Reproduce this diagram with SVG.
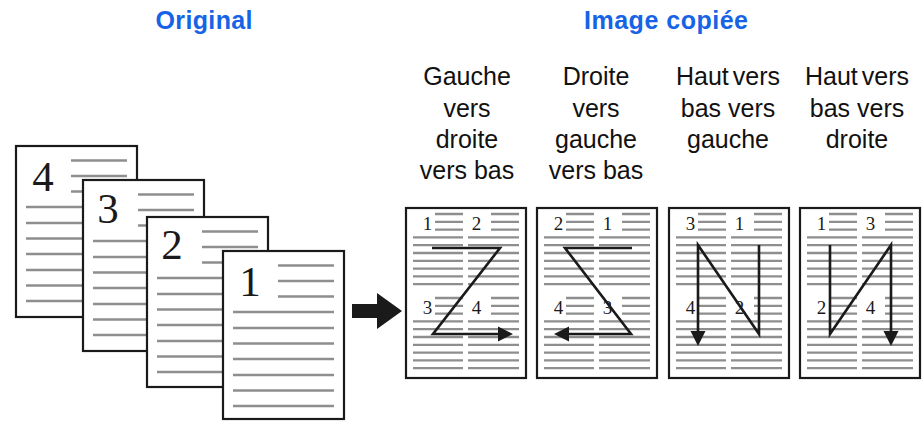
<svg xmlns="http://www.w3.org/2000/svg" xmlns:xlink="http://www.w3.org/1999/xlink" width="922" height="421" viewBox="0 0 922 421">
<style>
.head{font-family:"Liberation Sans",Arial,sans-serif;font-weight:bold;font-size:25px;fill:#1763e6;text-anchor:middle}
.lbl{font-family:"Liberation Sans",Arial,sans-serif;font-size:25px;fill:#111;text-anchor:middle}
.page{fill:#fff;stroke:#1a1a1a;stroke-width:2.2}
.gl{stroke:#8e8e8e;stroke-width:2.6;fill:none}
.ml{stroke:#8e8e8e;stroke-width:2.3;fill:none}
.bign{font-family:"Liberation Serif","Times New Roman",serif;font-size:43px;fill:#1a1a1a;text-anchor:middle}
.smn{font-family:"Liberation Serif","Times New Roman",serif;font-size:19px;fill:#1a1a1a;text-anchor:middle}
.path{fill:none;stroke:#1a1a1a;stroke-width:2.6;stroke-linejoin:miter}
.ah{fill:#1a1a1a}
</style>
<defs>
<g id="biglines" class="gl">
<path d="M55 14.5H111M55 30H111M55 45.5H111M10 61H111M10 77H111M10 92.5H111M10 108H111M10 124H111M10 139.5H111M10 155H111"/>
</g>
<g id="miniblock" class="ml">
<path d="M29 6H57M29 13.8H57M29 21.6H57M7 29.4H57M7 37.2H57M7 45H57M7 52.8H57M7 60.6H57M7 68.4H57M7 76.2H57"/>
<path d="M85 6H113M85 13.8H113M85 21.6H113M62 29.4H113M62 37.2H113M62 45H113M62 52.8H113M62 60.6H113M62 68.4H113M62 76.2H113"/>
</g>
<g id="minipage">
<rect class="page" x="0" y="0" width="120" height="170"/>
<use xlink:href="#miniblock"/>
<use xlink:href="#miniblock" y="84"/>
</g>
</defs>

<g id="titles">
<text class="head" x="204" y="29" textLength="97" lengthAdjust="spacing">Original</text>
<text class="head" x="666" y="29" textLength="164" lengthAdjust="spacing">Image copiée</text>
</g>

<g id="original-stack">
<g id="page4" transform="translate(16,146)">
<rect class="page" width="121" height="171"/>
<use xlink:href="#biglines"/>
<text class="bign" x="27" y="45">4</text>
</g>
<g id="page3" transform="translate(83,180)">
<rect class="page" width="121" height="171"/>
<use xlink:href="#biglines"/>
<text class="bign" x="25" y="43">3</text>
</g>
<g id="page2" transform="translate(147,217)">
<rect class="page" width="121" height="170"/>
<use xlink:href="#biglines"/>
<text class="bign" x="25" y="42">2</text>
</g>
<g id="page1" transform="translate(223,251)">
<rect class="page" width="121" height="168"/>
<use xlink:href="#biglines"/>
<text class="bign" x="27" y="45">1</text>
</g>
</g>

<g id="connectors">
<polygon class="ah" points="352,304 377,304 377,293 402,311 377,329 377,318 352,318"/>
</g>

<g id="copy-lr-tb">
<text class="lbl" x="467" y="85">Gauche</text>
<text class="lbl" x="467" y="117">vers</text>
<text class="lbl" x="467" y="148">droite</text>
<text class="lbl" x="467" y="179">vers bas</text>
<g transform="translate(406,208)">
<use xlink:href="#minipage"/>
<text class="smn" x="21.5" y="21.5">1</text>
<text class="smn" x="70.5" y="21.5">2</text>
<text class="smn" x="21.5" y="106">3</text>
<text class="smn" x="70.5" y="106">4</text>
<polyline class="path" points="26,40 94,40 27,126 93,126"/>
<polygon class="ah" points="92,118.5 107,126 92,133.5"/>
</g>
</g>

<g id="copy-rl-tb">
<text class="lbl" x="596" y="85">Droite</text>
<text class="lbl" x="596" y="117">vers</text>
<text class="lbl" x="596" y="148">gauche</text>
<text class="lbl" x="596" y="179">vers bas</text>
<g transform="translate(537,208)">
<use xlink:href="#minipage"/>
<text class="smn" x="21.5" y="21.5">2</text>
<text class="smn" x="70.5" y="21.5">1</text>
<text class="smn" x="21.5" y="106">4</text>
<text class="smn" x="70.5" y="106">3</text>
<polyline class="path" points="95,40 28,40 94,126 31,126"/>
<polygon class="ah" points="32,118.5 17,126 32,133.5"/>
</g>
</g>

<g id="copy-tb-rl">
<text class="lbl" x="728" y="85" word-spacing="-3">Haut vers</text>
<text class="lbl" x="728" y="117">bas vers</text>
<text class="lbl" x="728" y="148">gauche</text>
<g transform="translate(669,208)">
<use xlink:href="#minipage"/>
<text class="smn" x="21.5" y="21.5">3</text>
<text class="smn" x="70.5" y="21.5">1</text>
<text class="smn" x="21.5" y="106">4</text>
<text class="smn" x="70.5" y="106">2</text>
<polyline class="path" points="90,37 90,126 29,37 29,124"/>
<polygon class="ah" points="21.5,123 36.5,123 29,138"/>
</g>
</g>

<g id="copy-tb-lr">
<text class="lbl" x="857" y="85" word-spacing="-3">Haut vers</text>
<text class="lbl" x="857" y="117">bas vers</text>
<text class="lbl" x="857" y="148">droite</text>
<g transform="translate(800,208)">
<use xlink:href="#minipage"/>
<text class="smn" x="21.5" y="21.5">1</text>
<text class="smn" x="70.5" y="21.5">3</text>
<text class="smn" x="21.5" y="106">2</text>
<text class="smn" x="70.5" y="106">4</text>
<polyline class="path" points="30,37 30,126 91,37 91,124"/>
<polygon class="ah" points="83.5,123 98.5,123 91,138"/>
</g>
</g>
</svg>
